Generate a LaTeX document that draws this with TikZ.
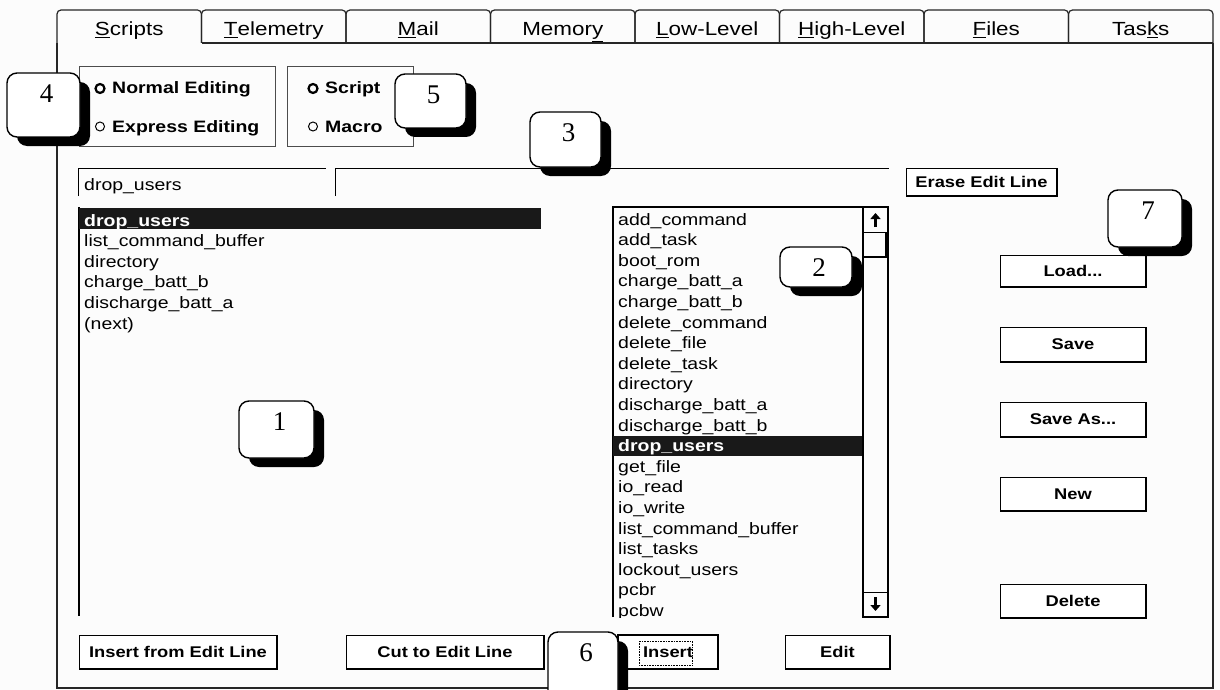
\documentclass[tikz,border=0pt]{standalone}
\usepackage{fontspec}
\setmainfont{Liberation Sans}
\newfontfamily\uifont[FakeStretch=1.18]{Liberation Sans}
\newfontfamily\calloutfont{Liberation Serif}
\usetikzlibrary{arrows.meta}

\tikzset{
	frameline/.style={line width=1.2pt, black!85},
	grpbox/.style={line width=0.8pt, black!70},
	tablabel/.style={anchor=base, inner sep=0pt, font=\uifont\fontsize{19}{21}\selectfont},
	optlabel/.style={anchor=base west, inner sep=0pt, font=\uifont\bfseries\fontsize{16.5}{18}\selectfont},
	item/.style={anchor=base west, inner sep=0pt, font=\uifont\fontsize{16.5}{18}\selectfont},
	hlitem/.style={item, text=white, font=\uifont\bfseries\fontsize{16.5}{18}\selectfont},
	btnface/.style={fill=white, draw=black, line width=1pt},
	btnshade/.style={draw=black, line width=2pt},
	btntext/.style={inner sep=0pt, font=\uifont\bfseries\fontsize{15.5}{18}\selectfont},
	callbox/.style={rounded corners=10pt, fill=white, draw=black, line width=1.4pt},
	callshadow/.style={rounded corners=10pt, fill=black},
	callnum/.style={inner sep=0pt, font=\calloutfont\fontsize{27}{27}\selectfont},
	radio/.style={draw=black, line width=1pt},
	radioon/.style={draw=black, line width=2.2pt},
	sbarrow/.style={line width=2.8pt, -{Triangle[length=6pt,width=10pt]}},
}

% button: corners, node name, text
\def\uibutton(#1,#2)(#3,#4)#5#6{%
	\draw[btnface] (#1,#2) rectangle (#3,#4);
	\draw[btnshade] (#1+1,#4) -- (#3,#4) -- (#3,#2+1);
	\node[btntext] (#5) at ({(#1+#3)/2},{(#2+#4)/2}) {#6};}
% numbered callout with shadow
\def\callout(#1,#2)(#3,#4)#5#6{%
	\fill[callshadow] (#1+10,#2+9) rectangle (#3+10,#4+9);
	\draw[callbox] (#1,#2) rectangle (#3,#4);
	\node[callnum] (#5) at ({(#1+#3)/2+3},{#2+21}) {#6};}

\begin{document}
\begin{tikzpicture}[x=1pt, y=-1pt]
	%%%%% START %%%%%
	\useasboundingbox (0,0) rectangle (1220,690);
	\clip (0,0) rectangle (1220,690);
	\fill[black!1] (0,0) rectangle (1220,690);
	
	% tabs
	\foreach \i/\lab in {0/{\underline{S}cripts}, 1/{\underline{T}elemetry}, 2/{\underline{M}ail}, 3/{Memor\underline{y}},
		4/{\underline{L}ow-Level}, 5/{\underline{H}igh-Level}, 6/{\underline{F}iles}, 7/{Tas\underline{k}s}} {
		\draw[frameline, rounded corners=4pt] ({57+144.5*\i},43) -- ({57+144.5*\i},10) -- ({201.5+144.5*\i},10) -- ({201.5+144.5*\i},43);
		\node[tablabel] (tab\i) at ({129.25+144.5*\i},36) {\lab};
	}
	\draw[frameline] (201.5,43) -- (1213,43);
	\draw[frameline] (57,43) -- (57,688) -- (1213,688) -- (1213,43);
	
	% option groups
	\draw[grpbox] (79,66) rectangle (275,146);
	\draw[grpbox] (287,66) rectangle (413,146);
	\draw[radioon] (100,88.5) circle (4.5);
	\draw[radio] (100,126.5) circle (4.5);
	\draw[radioon] (313,88.5) circle (4.5);
	\draw[radio] (313,126.5) circle (4.5);
	\node[optlabel] (normal) at (112,94) {Normal Editing};
	\node[optlabel] (express) at (112,132) {Express Editing};
	\node[optlabel] (script) at (325,94) {Script};
	\node[optlabel] (macro) at (325,132) {Macro};
	
	% edit lines
	\draw[line width=1pt] (78,196) -- (78,168) -- (326,168);
	\draw[line width=1pt] (335,196) -- (335,168) -- (889,168);
	\node[item] (editname) at (84,190) {drop\_users};
	\uibutton(906,168)(1057,196){erase}{Erase Edit Line}
	
	% script list
	\draw[line width=1.5pt] (79,207) -- (79,616);
	\fill[black!90] (79,208) rectangle (541,229);
	\node[hlitem] (left0) at (84,226) {drop\_users};
	\foreach \t [count=\k] in {list\_command\_buffer, directory, charge\_batt\_b, discharge\_batt\_a, (next)}
		\node[item] (left\k) at (84,{226+20.6*\k}) {\t};
	
	% command list
	\draw[line width=1.2pt] (613,617) -- (613,207) -- (863,207);
	\begin{scope}
		\clip (613,207) rectangle (863,617);
		\fill[black!90] (613,436) rectangle (862,456);
		\foreach \t [count=\k from 0] in {add\_command, add\_task, boot\_rom, charge\_batt\_a, charge\_batt\_b, delete\_command,
			delete\_file, delete\_task, directory, discharge\_batt\_a, discharge\_batt\_b}
			\node[item] (right\k) at (618,{225+20.6*\k}) {\t};
		\node[hlitem] (right11) at (618,{225+20.6*11}) {drop\_users};
		\foreach \t [count=\k from 12] in {get\_file, io\_read, io\_write, list\_command\_buffer, list\_tasks, lockout\_users, pcbr, pcbw}
			\node[item] (right\k) at (618,{225+20.6*\k}) {\t};
	\end{scope}
	
	% scroll bar
	\draw[line width=1.2pt] (863,207) rectangle (888,617);
	\draw[line width=1pt] (863,232) -- (888,232);
	\draw[line width=1.5pt] (863,257) -- (888,257);
	\draw[line width=1.5pt] (886,233) -- (886,257);
	\draw[line width=1pt] (863,592) -- (888,592);
	\draw[sbarrow] (875.5,227) -- (875.5,213);
	\draw[sbarrow] (875.5,597) -- (875.5,611);
	
	% buttons
	\uibutton(1000,255)(1146,287){load}{Load...}
	\uibutton(1000,327)(1146,362){save}{Save}
	\uibutton(1000,402)(1146,437){saveas}{Save As...}
	\uibutton(1000,477)(1146,511){new}{New}
	\uibutton(1000,584)(1146,618){delete}{Delete}
	\uibutton(79,635)(277,669){insfrom}{Insert from Edit Line}
	\uibutton(346,635)(544,669){cutto}{Cut to Edit Line}
	\uibutton(618,635)(718,669){insert}{Insert}
	\draw[line width=1.6pt] (618,635) rectangle (718,669);
	\draw[densely dotted, line width=0.6pt] (639,641) rectangle (692,665);
	\uibutton(785,635)(890,669){edit}{Edit}
	
	% callouts
	\callout(7,73)(80,137){c4}{4}
	\callout(395,74)(466,128){c5}{5}
	\callout(530,112)(601,167){c3}{3}
	\callout(1108,190)(1182,247){c7}{7}
	\callout(780,247)(852,287){c2}{2}
	\callout(239,401)(314,458){c1}{1}
	\callout(548,632)(618,720){c6}{6}
	
	%%%%% END %%%%%
\end{tikzpicture}
\end{document}
